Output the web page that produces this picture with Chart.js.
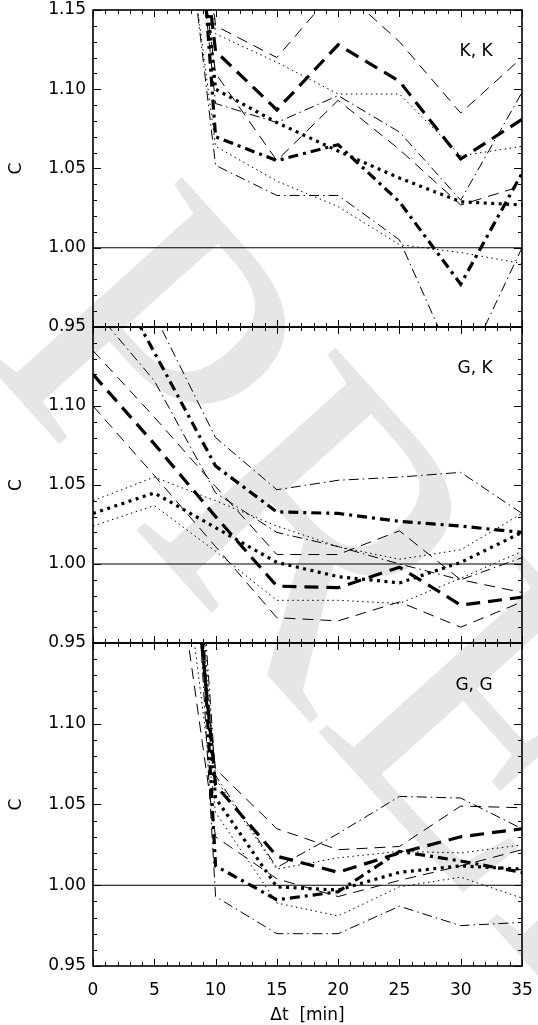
<!DOCTYPE html>
<html><head><meta charset="utf-8">
<script src="https://cdn.jsdelivr.net/npm/chart.js@4.4.1/dist/chart.umd.min.js"></script>
<style>
html,body{margin:0;padding:0;background:#fff;}
#wrap{position:relative;width:538px;height:1025px;overflow:hidden;background:#fff;}
canvas{position:absolute;left:0;top:0;}
#wm{position:absolute;left:230px;top:118px;font:412px 'Liberation Serif',serif;color:#e6e6e6;line-height:1;white-space:nowrap;transform-origin:0 0;transform:rotate(48deg);}
</style></head><body>
<div id="wrap">
<div id="wm">PREPRINT</div>
<canvas id="c1" width="538" height="1025"></canvas>
<canvas id="c2" width="538" height="1025"></canvas>
<canvas id="c3" width="538" height="1025"></canvas>
</div>
<script>
// ---- data ----
const dt = [0, 5, 10, 15, 20, 25, 30, 35];
const refX = [0, 35];
const refY = [1, 1];
const xTicksStep = 5;
const yTicksStep = 0.05;
const panelLabels = ['K, K', 'G, K', 'G, G'];

// K, K
const kkDash   = [null, 1.45, 1.124, 1.087, 1.128, 1.105, 1.056, 1.081];
const kkDashHi = [null, 1.52, 1.140, 1.120, 1.165, 1.130, 1.085, 1.120];
const kkDashLo = [null, 1.40, 1.110, 1.055, 1.093, 1.062, 1.027, 1.039];
const kkDot    = [null, 1.50, 1.100, 1.079, 1.061, 1.044, 1.029, 1.027];
const kkDotHi  = [null, 1.55, 1.135, 1.117, 1.097, 1.097, 1.058, 1.064];
const kkDotLo  = [null, 1.36, 1.064, 1.042, 1.026, 1.002, 0.997, 0.990];
const kkDD     = [null, 1.60, 1.070, 1.055, 1.065, 1.029, 0.977, 1.047];
const kkDDHi   = [null, 1.46, 1.091, 1.079, 1.096, 1.073, 1.030, 1.098];
const kkDDLo   = [null, 1.38, 1.052, 1.033, 1.033, 1.005, 0.918, 1.000];

// G, K
const gkDash   = [1.120, 1.076, 1.030, 0.986, 0.985, 0.998, 0.974, 0.979];
const gkDashHi = [1.135, 1.093, 1.049, 1.006, 1.006, 1.021, 0.990, 0.982];
const gkDashLo = [1.100, 1.056, 1.011, 0.966, 0.964, 0.976, 0.960, 0.976];
const gkDot    = [1.032, 1.045, 1.023, 1.001, 0.992, 0.988, 1.001, 1.020];
const gkDotHi  = [1.040, 1.055, 1.040, 1.024, 1.011, 1.003, 1.009, 1.032];
const gkDotLo  = [1.024, 1.037, 1.008, 0.977, 0.977, 0.975, 0.991, 1.008];
const gkDD     = [1.205, 1.134, 1.062, 1.033, 1.032, 1.027, 1.024, 1.020];
const gkDDHi   = [1.250, 1.158, 1.080, 1.047, 1.053, 1.055, 1.058, 1.032];
const gkDDLo   = [1.162, 1.116, 1.045, 1.020, 1.011, 1.000, 0.990, 1.004];

// G, G
const ggDash   = [null, 1.45, 1.062, 1.018, 1.008, 1.020, 1.030, 1.035];
const ggDashHi = [null, 1.40, 1.072, 1.035, 1.022, 1.024, 1.049, 1.048];
const ggDashLo = [null, 1.30, 1.030, 1.004, 0.993, 1.003, 1.012, 1.022];
const ggDot    = [null, 1.50, 1.054, 0.999, 0.997, 1.008, 1.012, 1.010];
const ggDotHi  = [null, 1.55, 1.066, 1.010, 1.017, 1.021, 1.020, 1.025];
const ggDotLo  = [null, 1.35, 1.045, 0.989, 0.981, 0.999, 1.005, 0.992];
const ggDD     = [null, 1.70, 1.012, 0.991, 0.996, 1.021, 1.015, 1.008];
const ggDDHi   = [null, 1.60, 1.068, 1.011, 1.032, 1.055, 1.054, 1.035];
const ggDDLo   = [null, 1.65, 0.993, 0.970, 0.970, 0.987, 0.975, 0.977];

// ---- styles & layout ----
const STY = {
  dashThin:  {w: 1,   dash: [11, 7]},
  dotThin:   {w: 1,   dash: [1.5, 3.5]},
  ddThin:    {w: 1,   dash: [10, 4, 1.5, 4]},
  dashThick: {w: 3.2, dash: [14, 8]},
  dotThick:  {w: 3.2, dash: [3, 4.5]},
  ddThick:   {w: 3.2, dash: [10, 5, 3, 5]}
};
const X_MIN = 0, X_MAX = 35, Y_MIN = 0.95, Y_MAX = 1.15;
const W = 538, H = 1025, LEFT = 93, RIGHT = 522;
const PANELS = [
  {id: 'c1', top: 10,  bottom: 327, label: panelLabels[0],
   series: [[kkDashHi,'dashThin'],[kkDashLo,'dashThin'],[kkDotHi,'dotThin'],[kkDotLo,'dotThin'],[kkDDHi,'ddThin'],[kkDDLo,'ddThin'],[kkDash,'dashThick'],[kkDot,'dotThick'],[kkDD,'ddThick']]},
  {id: 'c2', top: 327, bottom: 643, label: panelLabels[1],
   series: [[gkDashHi,'dashThin'],[gkDashLo,'dashThin'],[gkDotHi,'dotThin'],[gkDotLo,'dotThin'],[gkDDHi,'ddThin'],[gkDDLo,'ddThin'],[gkDash,'dashThick'],[gkDot,'dotThick'],[gkDD,'ddThick']]},
  {id: 'c3', top: 643, bottom: 966, label: panelLabels[2],
   series: [[ggDashHi,'dashThin'],[ggDashLo,'dashThin'],[ggDotHi,'dotThin'],[ggDotLo,'dotThin'],[ggDDHi,'ddThin'],[ggDDLo,'ddThin'],[ggDash,'dashThick'],[ggDot,'dotThick'],[ggDD,'ddThick']]}
];

const FONT = "'DejaVu Sans', sans-serif";
Chart.defaults.font.family = FONT;
Chart.defaults.color = '#000';

const frame = {
  id: 'frame',
  afterDatasetsDraw(chart, args, opts) {
    const {ctx, chartArea: a, scales: {x, y}} = chart;
    ctx.save();
    ctx.strokeStyle = '#000';
    ctx.lineWidth = 1;
    ctx.beginPath();
    for (let i = X_MIN; i <= X_MAX; i++) {
      const px = Math.round(x.getPixelForValue(i)) + 0.5;
      const len = i % xTicksStep === 0 ? 7 : 4;
      ctx.moveTo(px, a.top); ctx.lineTo(px, a.top + len);
      ctx.moveTo(px, a.bottom); ctx.lineTo(px, a.bottom - len);
    }
    const n0 = Math.round(Y_MIN * 100), n1 = Math.round(Y_MAX * 100);
    for (let i = n0; i <= n1; i++) {
      const py = Math.round(y.getPixelForValue(i / 100)) + 0.5;
      const len = i % 5 === 0 ? 8 : 4;
      ctx.moveTo(a.left, py); ctx.lineTo(a.left + len, py);
      ctx.moveTo(a.right, py); ctx.lineTo(a.right - len, py);
    }
    ctx.stroke();
    ctx.lineWidth = 1.6;
    ctx.strokeRect(a.left, a.top, a.right - a.left, a.bottom - a.top);
    ctx.fillStyle = '#000';
    ctx.font = "17px " + FONT;
    ctx.textAlign = 'right';
    ctx.textBaseline = 'middle';
    ctx.fillText(opts.label, x.getPixelForValue(32.6), y.getPixelForValue(1.1235));
    ctx.restore();
  }
};

PANELS.forEach((p, idx) => {
  const isBottom = idx === PANELS.length - 1;
  const datasets = [{
    data: refX.map((t, i) => ({x: t, y: refY[i]})),
    borderColor: '#000', borderWidth: 1, pointRadius: 0, clip: 0
  }];
  p.series.forEach(([vals, st]) => {
    datasets.push({
      data: dt.map((t, i) => ({x: t, y: vals[i]})),
      borderColor: '#000', borderWidth: STY[st].w, borderDash: STY[st].dash,
      borderCapStyle: 'butt', pointRadius: 0, tension: 0, fill: false, clip: 0, spanGaps: false
    });
  });
  const xScale = {
    type: 'linear', min: X_MIN, max: X_MAX, display: isBottom,
    grid: {display: false, drawTicks: false}, border: {display: false},
    ticks: {stepSize: xTicksStep, padding: 14, font: {size: 17}, color: '#000', maxRotation: 0, autoSkip: false},
    title: {display: true, text: 'Δt  [min]', font: {size: 17, lineHeight: 1}, padding: {top: 0, bottom: 1}, color: '#000'},
    afterFit: (s) => {
      if (isBottom) s.height = H - p.bottom;
      s.paddingLeft = 0; s.paddingRight = 0;
    }
  };
  new Chart(document.getElementById(p.id), {
    type: 'line',
    data: {datasets},
    options: {
      responsive: false, animation: false, devicePixelRatio: 1,
      layout: {padding: {top: p.top, bottom: isBottom ? 0 : H - p.bottom, left: 0, right: W - RIGHT}},
      plugins: {legend: {display: false}, tooltip: {enabled: false}, frame: {label: p.label}},
      scales: {
        x: xScale,
        y: {
          min: Y_MIN, max: Y_MAX,
          grid: {display: false, drawTicks: false}, border: {display: false},
          ticks: {stepSize: yTicksStep, padding: 7, font: {size: 17}, color: '#000',
            callback: (v) => (idx > 0 && Math.abs(v - Y_MAX) < 1e-6) ? '' : Number(v).toFixed(2)},
          title: {display: true, text: 'C', font: {size: 17}, padding: {top: 6, bottom: 0}, color: '#000'},
          afterFit: (s) => { s.width = LEFT; s.paddingTop = 0; s.paddingBottom = 0; }
        }
      }
    },
    plugins: [frame]
  });
});
</script>
</body></html>
